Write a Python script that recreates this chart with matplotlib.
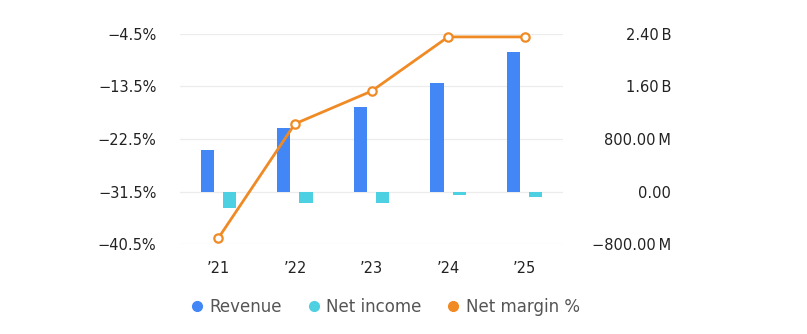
import matplotlib
matplotlib.use("Agg")
import matplotlib.pyplot as plt
import numpy as np
from matplotlib.lines import Line2D

# Dados
anos = ["\u201921", "\u201922", "\u201923", "\u201924", "\u201925"]
receita = [640e6, 960e6, 1.28e9, 1.65e9, 2.13e9]
lucro_liquido = [-245e6, -180e6, -180e6, -55e6, -90e6]
margem_liquida = [-39.5, -19.9, -14.3, -5.0, -5.0]

ticks_esq = [-40.5, -31.5, -22.5, -13.5, -4.5]
ticks_dir = [-800e6, 0, 800e6, 1.6e9, 2.4e9]
labels_dir = ["\u2212800.00\u2009M", "0.00", "800.00\u2009M", "1.60\u2009B", "2.40\u2009B"]

COR_REC = "#4287f5"
COR_LUC = "#4dd0e1"
COR_MARG = "#f08a24"

fig = plt.figure(figsize=(8.07, 3.34), dpi=100)
W, H = 807, 334
ax = fig.add_axes([180 / W, 1 - 244 / H, 383 / W, 210 / H])
ax2 = ax.twinx()

x = np.arange(len(anos))
larg = 0.17
off = 0.145

# grade (atrás das barras)
for t in ticks_dir:
    ax2.axhline(t, color="#ececec", lw=0.9, zorder=0)

# barras no eixo direito
ax2.bar(x - off, receita, width=larg, color=COR_REC, zorder=2)
ax2.bar(x + off, lucro_liquido, width=larg, color=COR_LUC, zorder=2)
ax2.set_ylim(ticks_dir[0], ticks_dir[-1])
ax2.set_yticks(ticks_dir)
ax2.set_yticklabels(labels_dir)

# linha da margem no eixo esquerdo (por cima)
ax.set_zorder(ax2.get_zorder() + 1)
ax.patch.set_visible(False)
ax.plot(x, margem_liquida, color=COR_MARG, lw=2, marker="o", ms=6,
        mfc="white", mec=COR_MARG, mew=1.6, zorder=5, clip_on=False)
ax.set_ylim(ticks_esq[0], ticks_esq[-1])
ax.set_yticks(ticks_esq)
ax.set_yticklabels([f"\u2212{abs(t):.1f}%" for t in ticks_esq])
ax.set_xlim(-0.5, len(anos) - 0.5)
ax.set_xticks(x)
ax.set_xticklabels(anos)

for a in (ax, ax2):
    for s in a.spines.values():
        s.set_visible(False)
    a.tick_params(length=0, labelsize=10.5, colors="#222222")

ax.tick_params(axis="y", pad=17)
ax.tick_params(axis="x", pad=12)
for t in ax2.get_yticklabels():
    t.set_horizontalalignment("right")
ax2.yaxis.set_tick_params(pad=78)

handles = [Line2D([], [], ls="", marker="o", ms=7, color=c)
           for c in (COR_REC, COR_LUC, COR_MARG)]
leg = fig.legend(handles, ["Revenue", "Net income", "Net margin %"],
                 loc="center", bbox_to_anchor=(385 / W, 1 - 307 / H), ncol=3,
                 frameon=False, fontsize=12, handlelength=0.8,
                 handletextpad=0.35, columnspacing=1.5, labelcolor="#555555")

fig.savefig("out.png", dpi=100)
